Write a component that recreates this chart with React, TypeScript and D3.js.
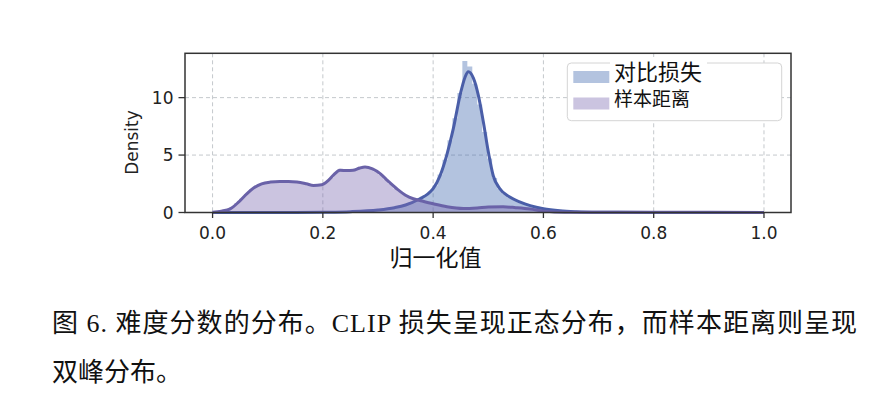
import React, { useRef, useEffect } from 'react'
import * as d3 from 'd3'

// histogram bins (seaborn distplot style): start + k * width
const binStart = 0.003
const binWidth = 0.009

// 对比损失 (CLIP loss) histogram, bins 28..80
const lossFirstBin = 28
const lossHist = [
  0.1, 0.12, 0.15, 0.18, 0.22, 0.27, 0.33, 0.4, 0.48, 0.58,
  0.7, 0.85, 1.0, 1.22, 1.5, 1.8, 2.35, 3.3, 4.6, 6.3,
  8.2, 10.4, 13.2, 12.7, 11.2, 9.4, 7.0, 4.7, 3.0, 2.1,
  1.6, 1.3, 1.1, 0.9, 0.75, 0.6, 0.48, 0.38, 0.3, 0.23,
  0.17, 0.13, 0.1, 0.08, 0.06, 0.05, 0.04, 0.03, 0.03, 0.02,
  0.02, 0.02, 0.01,
]

// 样本距离 (sample distance) histogram, bins 0..80
const distFirstBin = 0
const distHist = [
  0.08, 0.15, 0.25, 0.45, 0.8, 1.2, 1.6, 2.0, 2.3, 2.5,
  2.6, 2.65, 2.7, 2.7, 2.7, 2.7, 2.65, 2.6, 2.5, 2.4,
  2.35, 2.4, 2.65, 3.0, 3.45, 3.8, 3.75, 3.7, 3.8, 4.0,
  4.05, 3.85, 3.6, 3.3, 2.9, 2.5, 2.1, 1.8, 1.5, 1.3,
  1.12, 1.0, 0.9, 0.8, 0.72, 0.62, 0.52, 0.45, 0.4, 0.36,
  0.35, 0.36, 0.4, 0.43, 0.46, 0.48, 0.5, 0.5, 0.5, 0.47,
  0.43, 0.38, 0.33, 0.28, 0.22, 0.16, 0.11, 0.07, 0.05, 0.04,
  0.03, 0.03, 0.02, 0.02, 0.02, 0.02, 0.02, 0.01, 0.01, 0.01,
]

// KDE curves: [x, density]
const lossKde: [number, number][] = [
  [0.0, 0], [0.15, 0.0], [0.2, 0.02], [0.25, 0.07], [0.3, 0.22], [0.33, 0.42],
  [0.35, 0.65], [0.376, 1.2], [0.39, 1.6], [0.4, 2.07], [0.4125, 3.2],
  [0.4247, 5.0], [0.4366, 7.3], [0.4488, 10.2], [0.458, 11.8], [0.4638, 12.25],
  [0.473, 11.7], [0.482, 10.2], [0.491, 7.9], [0.5, 5.3], [0.509, 3.2],
  [0.521, 2.07], [0.539, 1.34], [0.558, 0.9], [0.576, 0.6], [0.6, 0.33],
  [0.63, 0.15], [0.66, 0.07], [0.7, 0.03], [0.8, 0.01], [1.0, 0.0],
]

const distKde: [number, number][] = [
  [0.0, 0.03], [0.016, 0.12], [0.032, 0.32], [0.047, 0.9], [0.062, 1.63],
  [0.075, 2.15], [0.089, 2.5], [0.105, 2.65], [0.122, 2.7], [0.138, 2.7],
  [0.153, 2.65], [0.17, 2.5], [0.183, 2.36], [0.198, 2.42], [0.21, 2.8],
  [0.22, 3.3], [0.231, 3.67], [0.243, 3.65], [0.255, 3.67], [0.266, 3.85],
  [0.2765, 3.96], [0.29, 3.8], [0.304, 3.38], [0.318, 2.75], [0.334, 2.07],
  [0.35, 1.5], [0.364, 1.2], [0.376, 1.05], [0.4, 0.76], [0.425, 0.5],
  [0.455, 0.35], [0.48, 0.4], [0.5, 0.48], [0.527, 0.5], [0.55, 0.42],
  [0.576, 0.3], [0.6, 0.12], [0.62, 0.05], [0.66, 0.03], [0.8, 0.02], [1.0, 0.01],
]

const xTicks = [0.0, 0.2, 0.4, 0.6, 0.8, 1.0]
const yTicks = [0, 5, 10]
const legendLabels = ['对比损失', '样本距离']
const captionLines = [
  '图 6. 难度分数的分布。CLIP 损失呈现正态分布，而样本距离则呈现',
  '双峰分布。',
]

const lossFill = 'rgb(65,105,175)'
const lossLine = '#4a5ea8'
const distFill = 'rgb(125,107,177)'
const distLine = '#6a62a8'

export default function App() {
  const svgRef = useRef<SVGSVGElement>(null)
  const width = 890
  const height = 414

  useEffect(() => {
    if (!svgRef.current) return
    document.body.style.margin = '0'

    const svg = d3.select(svgRef.current)
    svg.selectAll('*').remove()

    // plot box
    const left = 185
    const right = 791
    const top = 53.3
    const bottom = 212.5

    const x = d3.scaleLinear().domain([-0.05, 1.049]).range([left, right])
    const y = d3.scaleLinear().domain([0, 13.86]).range([bottom, top])

    // grid
    const grid = svg.append('g')
    grid.selectAll('line.gx')
      .data(xTicks)
      .join('line')
      .attr('x1', d => x(d)).attr('x2', d => x(d))
      .attr('y1', top).attr('y2', bottom)
      .attr('stroke', '#c4c8cc').attr('stroke-width', 1)
      .attr('stroke-dasharray', '4,3')
    grid.selectAll('line.gy')
      .data(yTicks.slice(1))
      .join('line')
      .attr('x1', left).attr('x2', right)
      .attr('y1', d => y(d)).attr('y2', d => y(d))
      .attr('stroke', '#c4c8cc').attr('stroke-width', 1)
      .attr('stroke-dasharray', '4,3')

    // histogram as one stepped area, so bars have no seams
    const histArea = d3.area<[number, number]>()
      .x(d => x(d[0]))
      .y0(bottom)
      .y1(d => y(d[1]))
      .curve(d3.curveStepAfter)

    const drawHist = (vals: number[], first: number, color: string) => {
      const pts: [number, number][] = vals.map((v, i) => [binStart + (first + i) * binWidth, v])
      pts.push([binStart + (first + vals.length) * binWidth, vals[vals.length - 1]])
      svg.append('path')
        .attr('d', histArea(pts))
        .attr('fill', color)
        .attr('fill-opacity', 0.4)
    }

    const kdeLine = d3.line<[number, number]>()
      .x(d => x(d[0]))
      .y(d => y(d[1]))
      .curve(d3.curveMonotoneX)

    const drawKde = (pts: [number, number][], color: string) => {
      svg.append('path')
        .attr('d', kdeLine(pts))
        .attr('fill', 'none')
        .attr('stroke', color)
        .attr('stroke-width', 3)
        .attr('stroke-linejoin', 'round')
    }

    drawHist(lossHist, lossFirstBin, lossFill)
    drawKde(lossKde, lossLine)
    drawHist(distHist, distFirstBin, distFill)
    drawKde(distKde, distLine)

    // spines
    svg.append('rect')
      .attr('x', left).attr('y', top)
      .attr('width', right - left).attr('height', bottom - top)
      .attr('fill', 'none')
      .attr('stroke', '#333')
      .attr('stroke-width', 1.5)

    // x ticks
    const xt = svg.append('g')
    xt.selectAll('line')
      .data(xTicks)
      .join('line')
      .attr('x1', d => x(d)).attr('x2', d => x(d))
      .attr('y1', bottom).attr('y2', bottom + 5.5)
      .attr('stroke', '#333').attr('stroke-width', 1.3)
    xt.selectAll('text')
      .data(xTicks)
      .join('text')
      .attr('x', d => x(d))
      .attr('y', 238.5)
      .attr('text-anchor', 'middle')
      .attr('font-family', 'DejaVu Sans')
      .attr('font-size', '17px')
      .attr('fill', '#222')
      .text(d => d.toFixed(1))

    // y ticks
    const yt = svg.append('g')
    yt.selectAll('line')
      .data(yTicks)
      .join('line')
      .attr('x1', left - 6.5).attr('x2', left)
      .attr('y1', d => y(d)).attr('y2', d => y(d))
      .attr('stroke', '#333').attr('stroke-width', 1.3)
    yt.selectAll('text')
      .data(yTicks)
      .join('text')
      .attr('x', 173.5)
      .attr('y', d => y(d))
      .attr('dy', '0.36em')
      .attr('text-anchor', 'end')
      .attr('font-family', 'DejaVu Sans')
      .attr('font-size', '17px')
      .attr('fill', '#222')
      .text(d => String(d))

    // axis labels
    svg.append('text')
      .attr('transform', 'translate(137.5,142.5) rotate(-90)')
      .attr('text-anchor', 'middle')
      .attr('font-family', 'DejaVu Sans')
      .attr('font-size', '17px')
      .attr('fill', '#222')
      .text('Density')

    svg.append('text')
      .attr('x', 435.6)
      .attr('y', 266)
      .attr('text-anchor', 'middle')
      .attr('font-family', "'Noto Sans CJK SC'")
      .attr('font-size', '23px')
      .attr('fill', '#111')
      .text('归一化值')

    // legend
    const lg = svg.append('g')
    lg.append('rect')
      .attr('x', 567.3).attr('y', 63)
      .attr('width', 214.4).attr('height', 57.7)
      .attr('rx', 4)
      .attr('fill', '#fff')
      .attr('stroke', '#d4d4d4')
      .attr('stroke-width', 1)
    lg.append('rect')
      .attr('x', 610).attr('y', 57)
      .attr('width', 97).attr('height', 28)
      .attr('fill', '#fff')
    const legendColors = [lossFill, distFill]
    const legendRows = [77, 103.5]
    const legendSizes = [22, 19]
    legendLabels.forEach((label, i) => {
      lg.append('rect')
        .attr('x', 573.3).attr('y', legendRows[i] - 6)
        .attr('width', 36).attr('height', 12)
        .attr('fill', legendColors[i])
        .attr('fill-opacity', 0.4)
      lg.append('text')
        .attr('x', 614)
        .attr('y', legendRows[i] - 5 + legendSizes[i] * 0.38)
        .attr('font-family', "'Noto Sans CJK SC'")
        .attr('font-size', `${legendSizes[i]}px`)
        .attr('fill', '#111')
        .text(label)
    })

    // caption
    const cap = svg.append('g')
    cap.append('text')
      .attr('x', 52).attr('y', 332)
      .attr('textLength', 805)
      .attr('lengthAdjust', 'spacing')
      .attr('font-family', "'Liberation Serif', 'Noto Sans CJK SC'")
      .attr('font-size', '26px')
      .attr('fill', '#111')
      .text(captionLines[0])
    cap.append('text')
      .attr('x', 52).attr('y', 380.5)
      .attr('font-family', "'Liberation Serif', 'Noto Sans CJK SC'")
      .attr('font-size', '26px')
      .attr('fill', '#111')
      .text(captionLines[1])
  }, [])

  return (
    <svg
      ref={svgRef}
      width={width}
      height={height}
      style={{ display: 'block', background: '#fff' }}
    />
  )
}
